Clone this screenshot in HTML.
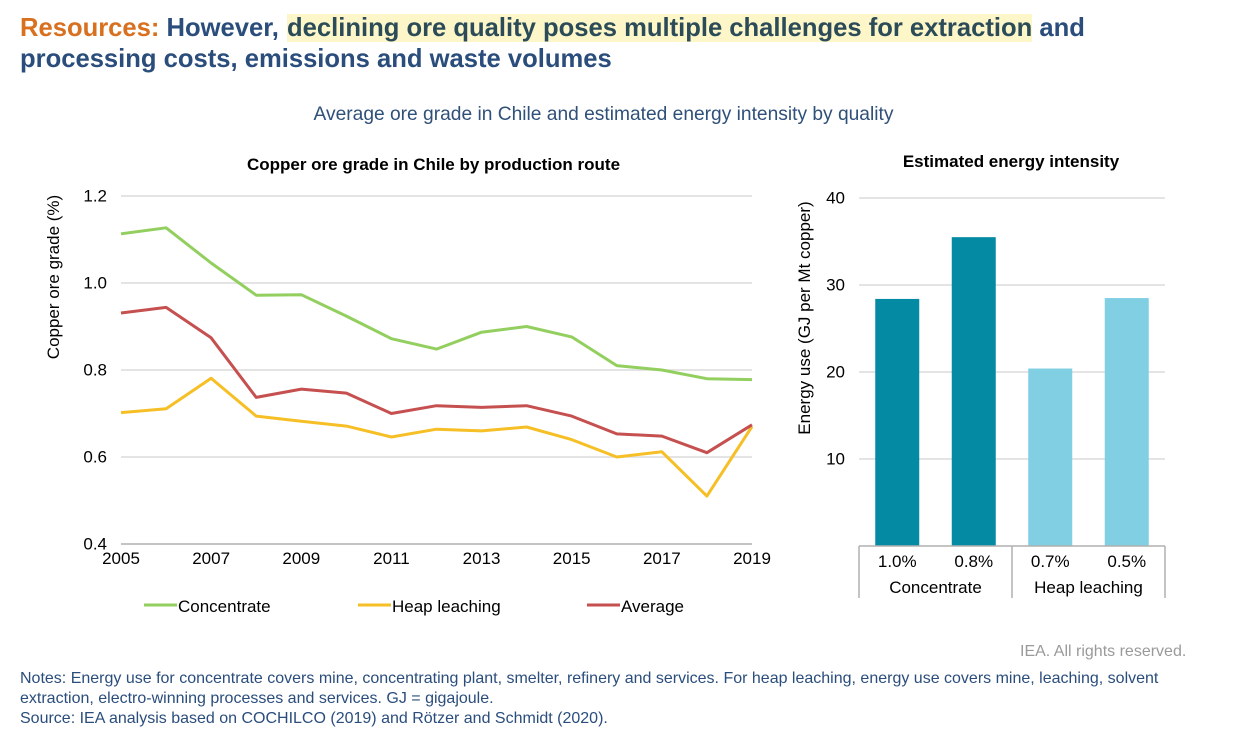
<!DOCTYPE html>
<html lang="en">
<head>
<meta charset="utf-8">
<title>Average ore grade in Chile and estimated energy intensity</title>
<style>
html,body{margin:0;padding:0;background:#fff;width:1235px;height:739px;overflow:hidden}
body{position:relative;font-family:"Liberation Sans",sans-serif}
.abs{position:absolute;white-space:nowrap}
#headline{left:20px;top:12.5px;font-size:25.6px;line-height:31px;font-weight:bold;color:#2a4d7c}
#headline .lead{color:#d8701f}
#headline .hl{background:#fdf6c9;color:#2a4b57;padding:0;margin-left:1px}
#subtitle{left:0;width:1207px;text-align:center;top:104px;font-size:19.2px;line-height:22px;color:#2f5079}
#rights{left:1020px;top:643px;font-size:16px;line-height:18px;color:#9a9a9a}
#notes{left:20px;top:669px;font-size:16px;line-height:20px;color:#2a4d7c}
#source{left:20px;top:709px;font-size:16px;line-height:19px;color:#2a4d7c}
svg{position:absolute;left:0;top:0}
svg text{font-family:"Liberation Sans",sans-serif;fill:#000}
</style>
</head>
<body>
<div class="abs" id="headline"><span class="lead">Resources:</span> However, <span class="hl">declining ore quality poses multiple challenges for extraction</span> and<br>processing costs, emissions and waste volumes</div>
<div class="abs" id="subtitle">Average ore grade in Chile and estimated energy intensity by quality</div>

<svg id="chart" width="1235" height="739" viewBox="0 0 1235 739">
  <text x="433.5" y="170" font-size="17" font-weight="bold" text-anchor="middle">Copper ore grade in Chile by production route</text>
  <text x="1011" y="167" font-size="17" font-weight="bold" text-anchor="middle">Estimated energy intensity</text>
  <text transform="translate(59 277) rotate(-90)" font-size="17" text-anchor="middle">Copper ore grade (%)</text>
  <text transform="translate(810 318) rotate(-90)" font-size="17" text-anchor="middle">Energy use (GJ per Mt copper)</text>
  <g id="line-grid"></g>
  <g id="line-series"></g>
  <g id="line-axis"></g>
  <g id="legend"></g>
  <g id="bar-grid"></g>
  <g id="bars"></g>
  <g id="bar-axis"></g>
</svg>

<div class="abs" id="rights">IEA. All rights reserved.</div>
<div class="abs" id="notes">Notes: Energy use for concentrate covers mine, concentrating plant, smelter, refinery and services. For heap leaching, energy use covers mine, leaching, solvent<br>extraction, electro-winning processes and services. GJ = gigajoule.</div>
<div class="abs" id="source">Source: IEA analysis based on COCHILCO (2019) and Rötzer and Schmidt (2020).</div>

<script>
const years = [2005,2006,2007,2008,2009,2010,2011,2012,2013,2014,2015,2016,2017,2018,2019];
const concentrate = [1.113,1.127,1.046,0.972,0.973,0.924,0.872,0.848,0.887,0.900,0.876,0.810,0.800,0.780,0.778];
const heapLeaching = [0.702,0.711,0.781,0.694,0.682,0.671,0.646,0.664,0.660,0.669,0.640,0.600,0.612,0.510,0.670];
const average = [0.931,0.944,0.874,0.737,0.756,0.747,0.700,0.718,0.714,0.718,0.694,0.653,0.648,0.610,0.674];
const gradeTicks = [0.4,0.6,0.8,1.0,1.2];
const yearTicks = [2005,2007,2009,2011,2013,2015,2017,2019];
const barQualities = ['1.0%','0.8%','0.7%','0.5%'];
const barRoutes = ['Concentrate','Heap leaching'];
const barValues = [28.4,35.5,20.4,28.5];
const energyTicks = [10,20,30,40];

const NS = 'http://www.w3.org/2000/svg';
function mk(parent, tag, attrs, text) {
  const el = document.createElementNS(NS, tag);
  for (const k in attrs) el.setAttribute(k, attrs[k]);
  if (text !== undefined) el.textContent = text;
  parent.appendChild(el);
  return el;
}
const $ = id => document.getElementById(id);

/* line chart axes */
const xL = y => 121 + (y - 2005) * (752 - 121) / 14;
const yL = v => 544 - (v - 0.4) * 435;

gradeTicks.forEach(t => {
  const isBase = t === gradeTicks[0];
  const g = mk($('line-grid'), 'line', {x1:121, x2:752, y1:yL(t), y2:yL(t), stroke: isBase ? '#b0b0b0' : '#dcdcdc', 'stroke-width':1.5});
  
  
  const l = mk($('line-axis'), 'text', {x:107, y:yL(t)+5.5, 'font-size':17, 'text-anchor':'end'}, t.toFixed(1));
  
  
});
yearTicks.forEach(y => {
  const l = mk($('line-axis'), 'text', {x:xL(y), y:564, 'font-size':17, 'text-anchor':'middle'}, String(y));
  
  
});

function drawSeries(values, color, name) {
  const pts = values.map((v, i) => xL(years[i]).toFixed(1) + ',' + yL(v).toFixed(1)).join(' ');
  const p = mk($('line-series'), 'polyline', {points:pts, fill:'none', stroke:color, 'stroke-width':3, 'stroke-linejoin':'round'});
  
  
}
drawSeries(concentrate, '#92cf5f', 'series-concentrate');
drawSeries(heapLeaching, '#f6bf26', 'series-heap-leaching');
drawSeries(average, '#c5504f', 'series-average');

/* legend */
const swatchA = mk($('legend'), 'line', {x1:144, x2:177, y1:605, y2:605, stroke:'#92cf5f', 'stroke-width':3});


const labelA = mk($('legend'), 'text', {x:178, y:612, 'font-size':17}, 'Concentrate');


const swatchB = mk($('legend'), 'line', {x1:358, x2:391, y1:605, y2:605, stroke:'#f6bf26', 'stroke-width':3});


const labelB = mk($('legend'), 'text', {x:392, y:612, 'font-size':17}, 'Heap leaching');


const swatchC = mk($('legend'), 'line', {x1:587, x2:620, y1:605, y2:605, stroke:'#c5504f', 'stroke-width':3});


const labelC = mk($('legend'), 'text', {x:621, y:612, 'font-size':17}, 'Average');



/* bar chart axes */
const plotL = 859, plotR = 1165, plotB = 546;
const band = (plotR - plotL) / barValues.length;
const yB = v => plotB - v * 8.7;
const barW = 44;

energyTicks.forEach(t => {
  const g = mk($('bar-grid'), 'line', {x1:plotL, x2:plotR, y1:yB(t), y2:yB(t), stroke:'#dcdcdc', 'stroke-width':1.5});
  
  
  const l = mk($('bar-axis'), 'text', {x:845, y:yB(t)+5.5, 'font-size':17, 'text-anchor':'end'}, String(t));
  
  
});
barValues.forEach((v, i) => {
  const cx = plotL + band * (i + 0.5);
  const r = mk($('bars'), 'rect', {x:cx - barW/2, y:yB(v), width:barW, height:plotB - yB(v), fill: i < 2 ? '#058aa3' : '#80cfe2'});
  
  
  const l = mk($('bar-axis'), 'text', {x:cx, y:567, 'font-size':17, 'text-anchor':'middle'}, barQualities[i]);
  
  
});
barRoutes.forEach((name, i) => {
  const l = mk($('bar-axis'), 'text', {x:plotL + band * (2 * i + 1), y:593, 'font-size':17, 'text-anchor':'middle'}, name);
  
  
});
const baseLine = mk($('bar-axis'), 'line', {x1:plotL, x2:plotR, y1:plotB, y2:plotB, stroke:'#b0b0b0', 'stroke-width':1.5});


[0, 2, 4].forEach(k => {
  const d = mk($('bar-axis'), 'line', {x1:plotL + band * k, x2:plotL + band * k, y1:plotB, y2:598, stroke:'#b0b0b0', 'stroke-width':1.5});
  
  
});
</script>
</body>
</html>
